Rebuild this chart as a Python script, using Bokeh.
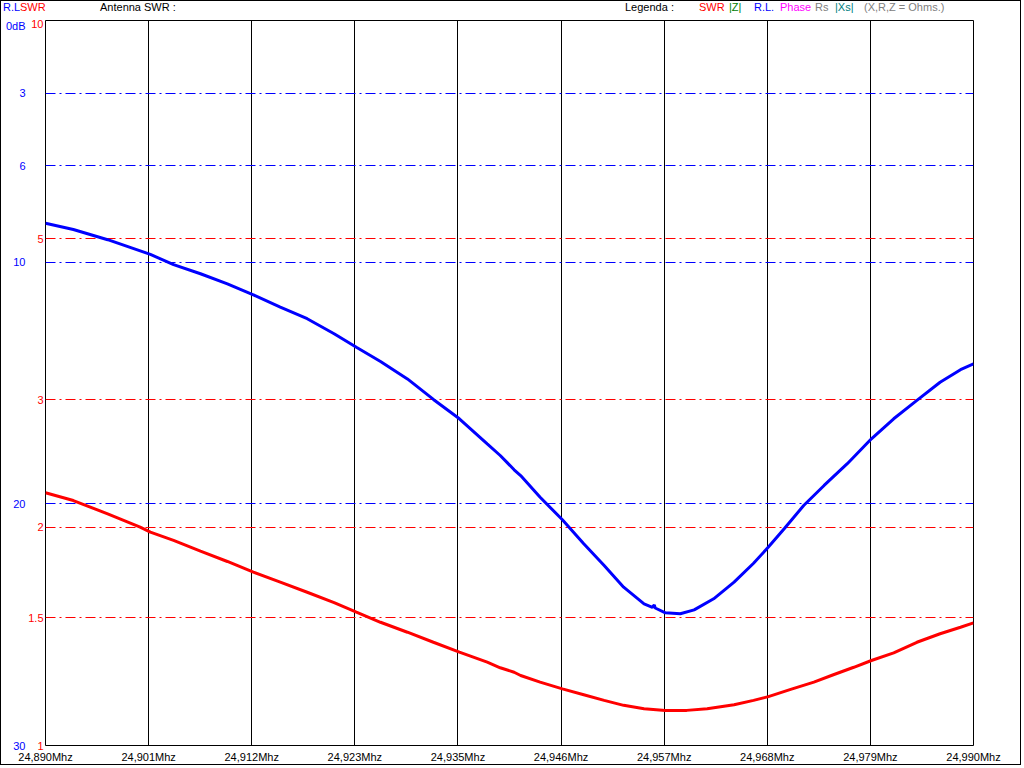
from bokeh.plotting import figure
from bokeh.layouts import column
from bokeh.models import Range1d, LogScale, LinearAxis, FixedTicker, Div
from bokeh.embed import file_html
from bokeh.resources import INLINE

# ---- data -------------------------------------------------------------
x_ticks = [round(24.890 + i * 0.1 / 9, 9) for i in range(10)]
x_tick_labels = ["24,890Mhz", "24,901Mhz", "24,912Mhz", "24,923Mhz", "24,935Mhz",
                 "24,946Mhz", "24,957Mhz", "24,968Mhz", "24,979Mhz", "24,990Mhz"]

rl_ticks = [0, 3, 6, 10, 20, 30]
rl_tick_labels = ["0dB", "3", "6", "10", "20", "30"]
rl_grid = [3, 6, 10, 20]

swr_ticks = [1, 1.5, 2, 3, 5, 10]
swr_tick_labels = ["1", "1.5", "2", "3", "5", "10"]
swr_grid = [1.5, 2, 3, 5]

rl_freq = [24.8900, 24.8930, 24.8967, 24.9013, 24.9038, 24.9067, 24.9096, 24.9124,
           24.9153, 24.9182, 24.9211, 24.9235, 24.9261, 24.9290, 24.9318, 24.9346,
           24.9376, 24.9390, 24.9405, 24.9412, 24.9433, 24.9457, 24.9480, 24.9502,
           24.9523, 24.9545, 24.9554, 24.9556, 24.9557, 24.9568, 24.9584, 24.9599,
           24.9620, 24.9642, 24.9663, 24.9679, 24.9696, 24.9717, 24.9739, 24.9764,
           24.9790, 24.9814, 24.9839, 24.9864, 24.9886, 24.9900]
rl_db = [8.39, 8.65, 9.07, 9.68, 10.10, 10.48, 10.90, 11.35,
         11.86, 12.34, 12.96, 13.52, 14.11, 14.83, 15.68, 16.48,
         17.52, 18.00, 18.59, 18.83, 19.73, 20.66, 21.65, 22.55,
         23.45, 24.14, 24.28, 24.18, 24.31, 24.51, 24.55, 24.39,
         23.93, 23.24, 22.46, 21.79, 21.03, 20.07, 19.24, 18.34,
         17.31, 16.48, 15.72, 14.97, 14.45, 14.21]

swr_freq = [24.8900, 24.8930, 24.8967, 24.9002, 24.9013, 24.9038, 24.9067, 24.9096,
            24.9124, 24.9153, 24.9182, 24.9211, 24.9235, 24.9261, 24.9290, 24.9318,
            24.9346, 24.9376, 24.9390, 24.9405, 24.9412, 24.9433, 24.9457, 24.9480,
            24.9502, 24.9523, 24.9545, 24.9568, 24.9591, 24.9613, 24.9642, 24.9663,
            24.9679, 24.9703, 24.9728, 24.9749, 24.9771, 24.9790, 24.9814, 24.9839,
            24.9864, 24.9886, 24.9900]
swr_val = [2.232, 2.177, 2.087, 2.001, 1.969, 1.918, 1.854, 1.794,
           1.734, 1.680, 1.627, 1.574, 1.527, 1.479, 1.433, 1.388,
           1.345, 1.303, 1.280, 1.262, 1.249, 1.223, 1.197, 1.175,
           1.154, 1.136, 1.124, 1.118, 1.118, 1.124, 1.138, 1.154,
           1.168, 1.195, 1.223, 1.252, 1.282, 1.310, 1.342, 1.388,
           1.426, 1.456, 1.476]

header_texts = [("R.L", "blue", 3), ("SWR", "red", 20), ("Antenna SWR :", "black", 100),
                ("Legenda :", "black", 625), ("SWR", "red", 699), ("|Z|", "green", 729),
                ("R.L.", "blue", 754), ("Phase", "magenta", 780), ("Rs", "gray", 815),
                ("|Xs|", "teal", 835), ("(X,R,Z = Ohms.)", "gray", 864)]

FONT = "Liberation Sans"
FS = "11px"
DASH = "10 4 2 4"

W, H = 1024, 768
HEAD = 19
BL, BR, BT, BB = 45, 51, 1, 23

# ---- header (HTML text row) ---------------------------------------------
spans = "".join(
    f'<span style="position:absolute;left:{x}px;top:1px;color:{c};white-space:pre;">{t}</span>'
    for t, c, x in header_texts)
border = ('<div style="position:absolute;left:0;top:0;width:1021px;height:765px;'
          'border:1px solid black;pointer-events:none;z-index:10;"></div>')
head = Div(text=f'<div style="position:relative;width:{W}px;height:{HEAD}px;'
                f'font-family:\'{FONT}\';font-size:{FS};line-height:13px;">{spans}{border}</div>',
           width=W, height=HEAD, margin=0)

# ---- figure -----------------------------------------------------------
p = figure(width=W, height=H - HEAD, output_backend="svg", toolbar_location=None,
           x_range=Range1d(24.890, 24.990), y_range=Range1d(30, 0),
           x_axis_type=None, y_axis_type=None, margin=0,
           min_border_left=BL, min_border_right=BR, min_border_top=BT, min_border_bottom=BB)
p.extra_y_ranges = {"swr": Range1d(1, 10)}
p.extra_y_scales = {"swr": LogScale()}
p.background_fill_color = "white"
p.border_fill_color = "white"
p.outline_line_color = "black"
p.outline_line_width = 1
p.outline_line_alpha = 1
p.xgrid.visible = False
p.ygrid.visible = False

# x axis
xax = LinearAxis(ticker=FixedTicker(ticks=x_ticks),
                 major_label_overrides={t: l for t, l in zip(x_ticks, x_tick_labels)})
# left axes: red SWR (inner), blue return loss (outer)
swr_ax = LinearAxis(y_range_name="swr", ticker=FixedTicker(ticks=swr_ticks),
                    major_label_overrides={t: l for t, l in zip(swr_ticks, swr_tick_labels)})
rl_ax = LinearAxis(ticker=FixedTicker(ticks=rl_ticks),
                   major_label_overrides={t: l for t, l in zip(rl_ticks, rl_tick_labels)})
for ax, col, so in ((xax, "black", 5), (swr_ax, "red", 2), (rl_ax, "blue", 0)):
    ax.axis_line_color = None
    ax.major_tick_line_color = None
    ax.minor_tick_line_color = None
    ax.major_tick_out = 0
    ax.major_tick_in = 0
    ax.minor_tick_out = 0
    ax.major_label_standoff = so
    ax.major_label_text_font = FONT
    ax.major_label_text_font_size = FS
    ax.major_label_text_color = col
p.add_layout(xax, "below")
p.add_layout(swr_ax, "left")
p.add_layout(rl_ax, "left")

# grid lines as span glyphs
p.vspan(x=x_ticks, line_color="black", line_width=1)
p.hspan(y=rl_grid, line_color="blue", line_width=1, line_dash=DASH)
p.hspan(y=swr_grid, line_color="red", line_width=1, line_dash=DASH, y_range_name="swr")

# curves
p.line(rl_freq, rl_db, line_color="blue", line_width=3)
p.line(swr_freq, swr_val, line_color="red", line_width=3, y_range_name="swr")

layout = column(head, p, spacing=0, margin=0)
open("out.html", "w").write(file_html(layout, INLINE))
